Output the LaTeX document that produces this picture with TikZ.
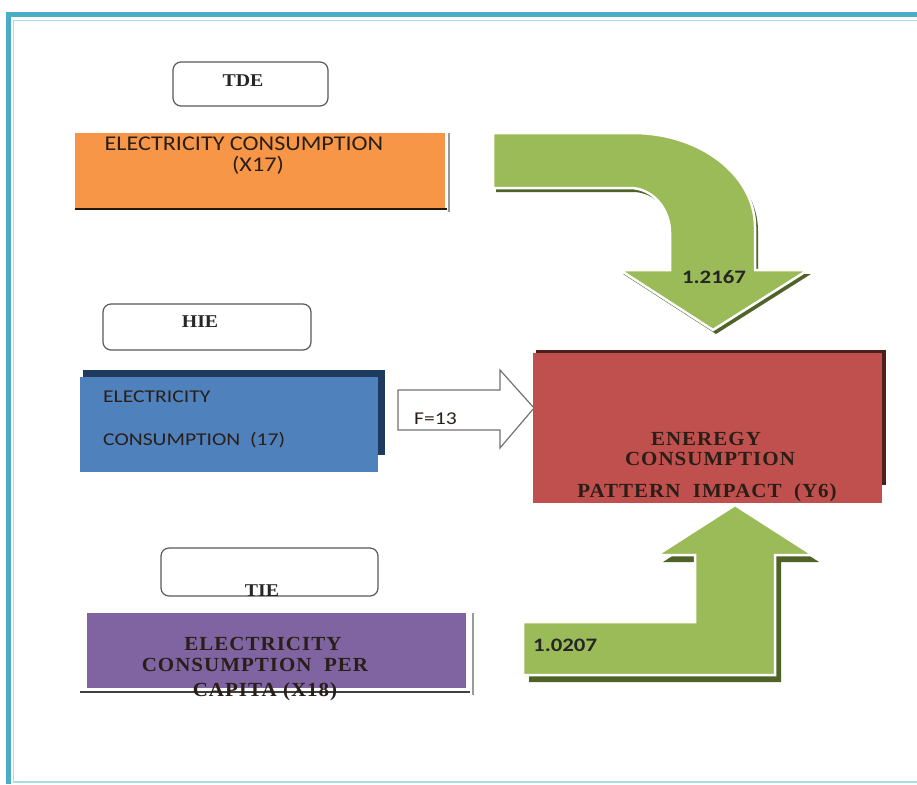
\documentclass[tikz,border=0pt]{standalone}
\usepackage{fontspec}
\setmainfont{Liberation Serif}
\newfontfamily\calib[FakeStretch=1.15]{Carlito}
\newfontfamily\calibw[FakeStretch=1.2]{Carlito}
\newfontfamily\spserif[LetterSpace=5,FakeStretch=1.05]{Liberation Serif}
\newfontfamily\wideserif[FakeStretch=1.1]{Liberation Serif}
\definecolor{frameteal}{HTML}{4BACC6}
\definecolor{frameltl}{HTML}{A9DCE6}
\definecolor{orangef}{HTML}{F79646}
\definecolor{bluef}{HTML}{4F81BD}
\definecolor{navy}{HTML}{1F3A5F}
\definecolor{redf}{HTML}{C0504D}
\definecolor{purplef}{HTML}{8064A2}
\definecolor{greenf}{HTML}{9BBB59}
\definecolor{olive}{HTML}{4F6228}
\definecolor{txtdark}{HTML}{2A1E18}
\tikzset{
  labelbox/.style={draw=black!65, line width=1.2pt, rounded corners=8pt, fill=white},
  serifbold/.style={font=\wideserif\fontsize{18}{20}\selectfont\bfseries, text=black!85, inner sep=0pt},
  sptext/.style={font=\spserif\fontsize{20}{22}\selectfont\bfseries, text=txtdark, inner sep=0pt},
  sanstext/.style={font=\calib\fontsize{21}{23}\selectfont, text=txtdark, inner sep=0pt},
  smallsans/.style={font=\calibw\fontsize{18}{20}\selectfont, text=txtdark, inner sep=0pt},
  numtext/.style={font=\calibw\fontsize{19}{21}\selectfont\bfseries, text=black!85, inner sep=0pt},
  greenarrow/.style={fill=greenf, draw=white, line width=2.5pt, line join=miter},
  shadowarrow/.style={fill=olive, draw=none},
}
\begin{document}
\begin{tikzpicture}[x=1pt,y=-1pt]
\useasboundingbox (0,0) rectangle (917,784);
\fill[white] (0,0) rectangle (917,784);
% frame
\draw[frameteal, line width=5pt] (917,15) -- (8,15) -- (8,784);
\draw[frameltl, line width=1.2pt] (917,20.5) -- (13.5,20.5) -- (13.5,782) -- (917,782);

% ---------- TDE ----------
\draw[labelbox] (173,62) rectangle (328,106);
\node[serifbold] (tde) at (243,81) {TDE};
\draw[black!40, line width=1.5pt] (449,133) -- (449,212);
\fill[orangef] (75,133) rectangle (445,208);
\draw[black!70!orangef!50!black, line width=2.5pt] (75,209) -- (447,209);
\node[sanstext] (o1) at (244,144) {ELECTRICITY CONSUMPTION};
\node[sanstext] (o2) at (258,165) {(X17)};

% curved down arrow
\fill[shadowarrow, shift={(3,4)}] (493,133) -- (633,133) arc[start angle=270, end angle=360, x radius=122, y radius=94] -- (755,270) -- (808,270) -- (713,330) -- (620,270) -- (670,270) -- (670,233) arc[start angle=0, end angle=-90, x radius=40, y radius=45] -- (493,188) -- cycle;
\path[greenarrow] (493,133) -- (633,133) arc[start angle=270, end angle=360, x radius=122, y radius=94] -- (755,270) -- (808,270) -- (713,330) -- (620,270) -- (670,270) -- (670,233) arc[start angle=0, end angle=-90, x radius=40, y radius=45] -- (493,188) -- cycle;
\node[numtext] (v1) at (714,277) {1.2167};

% ---------- HIE ----------
\draw[labelbox] (103,304) rectangle (311,350);
\node[serifbold] (hie) at (200,322) {HIE};
\fill[navy] (83,370) rectangle (385,455);
\fill[bluef] (80,377) rectangle (378,472);
\node[smallsans, anchor=west] (b1) at (103,397) {ELECTRICITY};
\node[smallsans, anchor=west] (b2) at (103,440) {CONSUMPTION\ \ (17)};

% white arrow F=13
\draw[black!55, line width=1.2pt, fill=white, line join=miter] (398,390) -- (500,390) -- (500,370) -- (534,408) -- (500,448) -- (500,430) -- (398,430) -- cycle;
\node[smallsans, anchor=west] (f) at (414,419) {F=13};

% ---------- red target ----------
\fill[black!60!redf] (536,350) rectangle (886,485);
\fill[redf] (533,353) rectangle (882,503);
\node[sptext] (r1) at (706,439) {ENEREGY};
\node[sptext] (r2) at (710,459) {CONSUMPTION};
\node[sptext] (r3) at (707,493) {PATTERN\ \ IMPACT\ \ (Y6)};

% ---------- TIE ----------
\draw[labelbox] (161,548) rectangle (378,596);
\node[serifbold] (tie) at (262,591) {TIE};
\draw[black!40, line width=1.5pt] (473,613) -- (473,695);
\fill[purplef] (87,613) rectangle (466,688);
\draw[black!75, line width=2.5pt] (80,692) -- (470,692);
\node[sptext] (p1) at (263,644) {ELECTRICITY};
\node[sptext] (p2) at (255,665) {CONSUMPTION\ \ PER};
\node[sptext] (p3) at (265,692) {CAPITA (X18)};

% up arrow
\fill[shadowarrow, shift={(6,7)}] (523,622) -- (695,622) -- (695,555) -- (657,555) -- (735,505) -- (813,555) -- (775,555) -- (775,675) -- (523,675) -- cycle;
\path[greenarrow] (523,622) -- (695,622) -- (695,555) -- (657,555) -- (735,505) -- (813,555) -- (775,555) -- (775,675) -- (523,675) -- cycle;
\node[numtext, anchor=west] (v2) at (533,645) {1.0207};
\end{tikzpicture}
\end{document}
